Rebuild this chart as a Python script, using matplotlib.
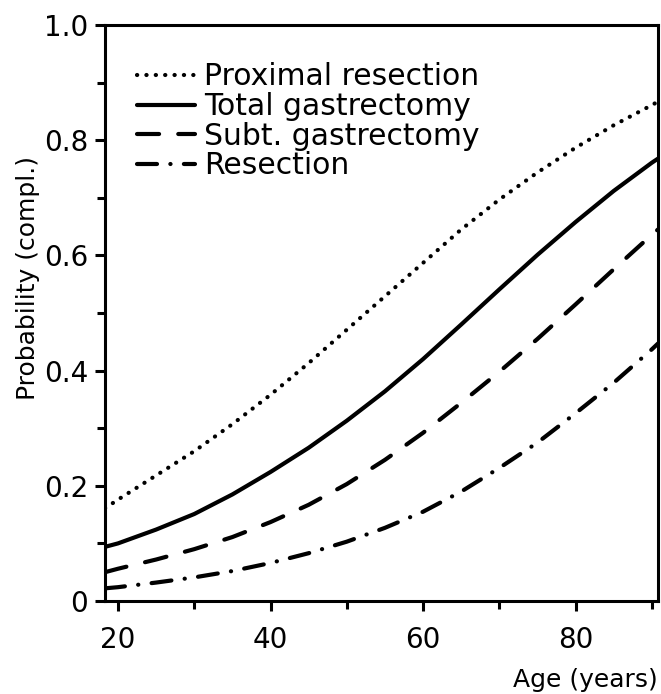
import matplotlib
matplotlib.use('Agg')
import matplotlib.pyplot as plt
from matplotlib.ticker import MultipleLocator, FuncFormatter

# values
age = [18.3, 20, 25, 30, 35, 40, 45, 50, 55, 60, 65, 70, 75, 80, 85, 90, 90.8]
proximal = [0.161, 0.176, 0.218, 0.260, 0.307, 0.358, 0.413, 0.471, 0.529,
            0.587, 0.645, 0.697, 0.744, 0.787, 0.826, 0.861, 0.867]
total = [0.094, 0.100, 0.124, 0.151, 0.185, 0.224, 0.266, 0.313, 0.364,
         0.420, 0.480, 0.541, 0.601, 0.658, 0.712, 0.761, 0.768]
subtotal = [0.050, 0.056, 0.072, 0.090, 0.111, 0.137, 0.167, 0.203, 0.245,
            0.292, 0.344, 0.398, 0.455, 0.515, 0.576, 0.636, 0.645]
resection = [0.022, 0.024, 0.032, 0.041, 0.052, 0.066, 0.083, 0.103, 0.127,
             0.155, 0.190, 0.231, 0.275, 0.326, 0.379, 0.437, 0.447]

labels = ['Proximal resection', 'Total gastrectomy', 'Subt. gastrectomy', 'Resection']

plt.rcParams['font.family'] = ['DejaVu Sans']

fig = plt.figure(figsize=(6.61, 6.94), dpi=100)
ax = fig.add_axes([105/661, 93/694, 553/661, 576/694])

lw = 3
ax.plot(age, proximal, color='k', lw=lw, linestyle=(0, (0.05, 2.2)),
        dash_capstyle='round', label=labels[0])
ax.plot(age, total, color='k', lw=lw, solid_capstyle='round', label=labels[1])
ax.plot(age, subtotal, color='k', lw=lw, linestyle=(0, (5.3, 4.6)),
        dash_capstyle='round', label=labels[2])
ax.plot(age, resection, color='k', lw=lw, linestyle=(0, (4.8, 3.2, 0.05, 3.2)),
        dash_capstyle='round', label=labels[3])

ax.set_xlim(18.3, 90.8)
ax.set_ylim(0, 1.0)
ax.xaxis.set_major_locator(MultipleLocator(20))
ax.xaxis.set_minor_locator(MultipleLocator(10))
ax.yaxis.set_major_locator(MultipleLocator(0.2))
ax.yaxis.set_minor_locator(MultipleLocator(0.1))
ax.yaxis.set_major_formatter(FuncFormatter(lambda v, p: '0' if abs(v) < 1e-9 else '%.1f' % v))

for s in ax.spines.values():
    s.set_linewidth(2.2)
ax.tick_params(which='major', direction='out', length=7, width=2.2, labelsize=20)
ax.tick_params(which='minor', direction='out', length=5.5, width=2.2)
ax.tick_params(axis='x', which='major', pad=11)
ax.tick_params(axis='y', which='major', pad=5)

ax.set_ylabel('Probability (compl.)', fontsize=18, va='center')
ax.yaxis.set_label_coords(-0.14, 0.56)
ax.set_xlabel('Age (years)', fontsize=18, ha='right', va='center')
ax.xaxis.set_label_coords(1.0, -0.137)

ax.legend(loc='upper left', bbox_to_anchor=(0.058, 0.935), frameon=False,
          fontsize=21.5, handlelength=1.95, handletextpad=0.3, labelspacing=0.02,
          borderaxespad=0, borderpad=0)

plt.savefig('out.png', dpi=100)
